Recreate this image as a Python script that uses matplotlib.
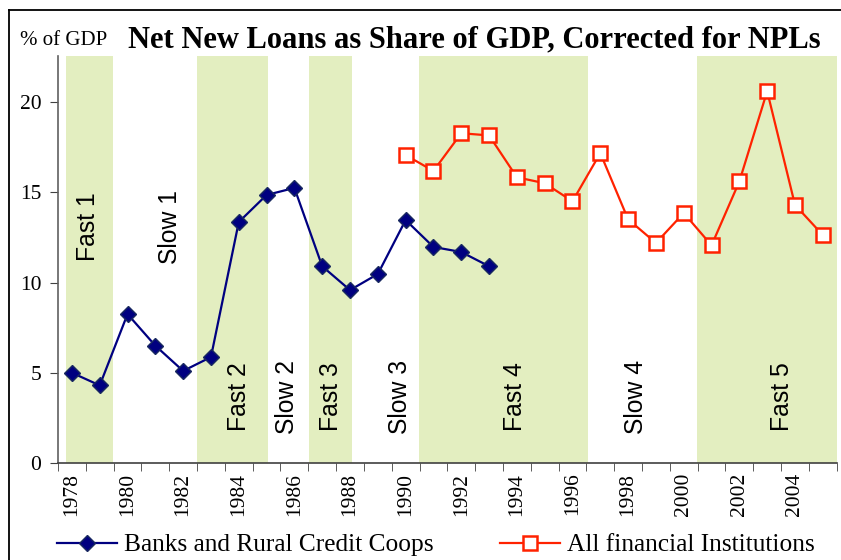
import matplotlib
matplotlib.use('Agg')
import matplotlib.pyplot as plt
from matplotlib.lines import Line2D
from matplotlib.ticker import FixedLocator

# Data
years_banks = list(range(1978, 1994))
banks = [5.0, 4.3, 8.25, 6.5, 5.1, 5.87, 13.35, 14.85, 15.24, 10.9, 9.58,
         10.47, 13.46, 11.97, 11.69, 10.9]

years_all = list(range(1990, 2006))
all_fin = [17.06, 16.18, 18.27, 18.15, 15.83, 15.5, 14.5, 17.17, 13.5, 12.19,
           13.85, 12.06, 15.6, 20.6, 14.3, 12.63]

# shaded "fast" periods (start, end) in year units
fast_bands = [(1977.79, 1979.48), (1982.5, 1985.05), (1986.53, 1988.08),
              (1990.49, 1996.56), (2000.49, 2005.5)]

phase_labels = ['Fast 1', 'Slow 1', 'Fast 2', 'Slow 2', 'Fast 3', 'Slow 3',
                'Fast 4', 'Slow 4', 'Fast 5']
phase_x = [1978.59, 1981.54, 1984.02, 1985.72, 1987.33, 1989.81, 1993.95,
           1998.3, 2003.52]
phase_y = [13.1, 13.1, 3.66, 3.66, 3.66, 3.66, 3.66, 3.66, 3.66]

tick_years = list(range(1978, 2006, 2))

serif = 'Liberation Serif'
sans = 'Liberation Sans'

fig = plt.figure(figsize=(8.41, 5.6), dpi=100)
ax = fig.add_axes([58 / 841, 1 - 463 / 560, (836.7 - 58) / 841, (463 - 56) / 560])

for x0, x1 in fast_bands:
    ax.axvspan(x0, x1, color='#E3EEC0', lw=0, zorder=0)

for lab, x, y in zip(phase_labels, phase_x, phase_y):
    ax.text(x, y, lab, rotation=90, ha='center', va='center',
            fontsize=17.8, family=sans, zorder=1)

ax.plot(years_banks, banks, color='#000080', lw=1.6, marker='D',
        markersize=8.5, markerfacecolor='#000080', markeredgecolor='#1a2a60',
        label='Banks and Rural Credit Coops', zorder=3)
ax.plot(years_all, all_fin, color='#FF2200', lw=1.6, marker='s',
        markersize=10.5, markerfacecolor='white', markeredgecolor='#FF2200',
        markeredgewidth=1.8, label='All financial Institutions', zorder=3)

ax.set_xlim(1977.5, 2005.5)
ax.set_ylim(0, 22.55)
ax.set_yticks([0, 5, 10, 15, 20])

ax.set_xticks(tick_years)
ax.set_xticklabels([str(y) for y in tick_years], rotation=90, family=serif,
                   fontsize=15.5)
ax.xaxis.set_minor_locator(FixedLocator([y - 0.5 for y in range(1978, 2007)]))
ax.tick_params(axis='x', which='major', length=0, pad=7)
ax.tick_params(axis='x', which='minor', length=6, color='#404040', direction='out')
ax.tick_params(axis='y', length=6, color='#404040', pad=6)
for lbl in ax.get_yticklabels():
    lbl.set_family(serif)
    lbl.set_fontsize(15.5)

ax.spines['top'].set_visible(False)
ax.spines['right'].set_visible(False)
ax.spines['left'].set_color('#606060')
ax.spines['bottom'].set_color('#404040')
ax.spines['left'].set_linewidth(1.2)
ax.spines['bottom'].set_linewidth(1.2)

fig.text(128 / 841, 1 - 47 / 560, 'Net New Loans as Share of GDP, Corrected for NPLs',
         family=serif, fontsize=22, fontweight='bold', va='baseline', ha='left')
fig.text(20 / 841, 1 - 45 / 560, '% of GDP', family=serif, fontsize=15,
         va='baseline', ha='left')

fig.legend(loc='center', bbox_to_anchor=(436 / 841, 1 - 545 / 560), ncol=2,
           frameon=False, prop={'family': serif, 'size': 18.3},
           handlelength=2.35, handletextpad=0.3, columnspacing=2.6,
           borderaxespad=0, borderpad=0)

# outer chart frame (left and top edges visible)
fig.add_artist(Line2D([9 / 841, 9 / 841], [0, 1 - 10 / 560], color='black', lw=1.3))
fig.add_artist(Line2D([9 / 841, 1], [1 - 10 / 560, 1 - 10 / 560], color='black', lw=1.3))

plt.savefig('out.png', dpi=100)
